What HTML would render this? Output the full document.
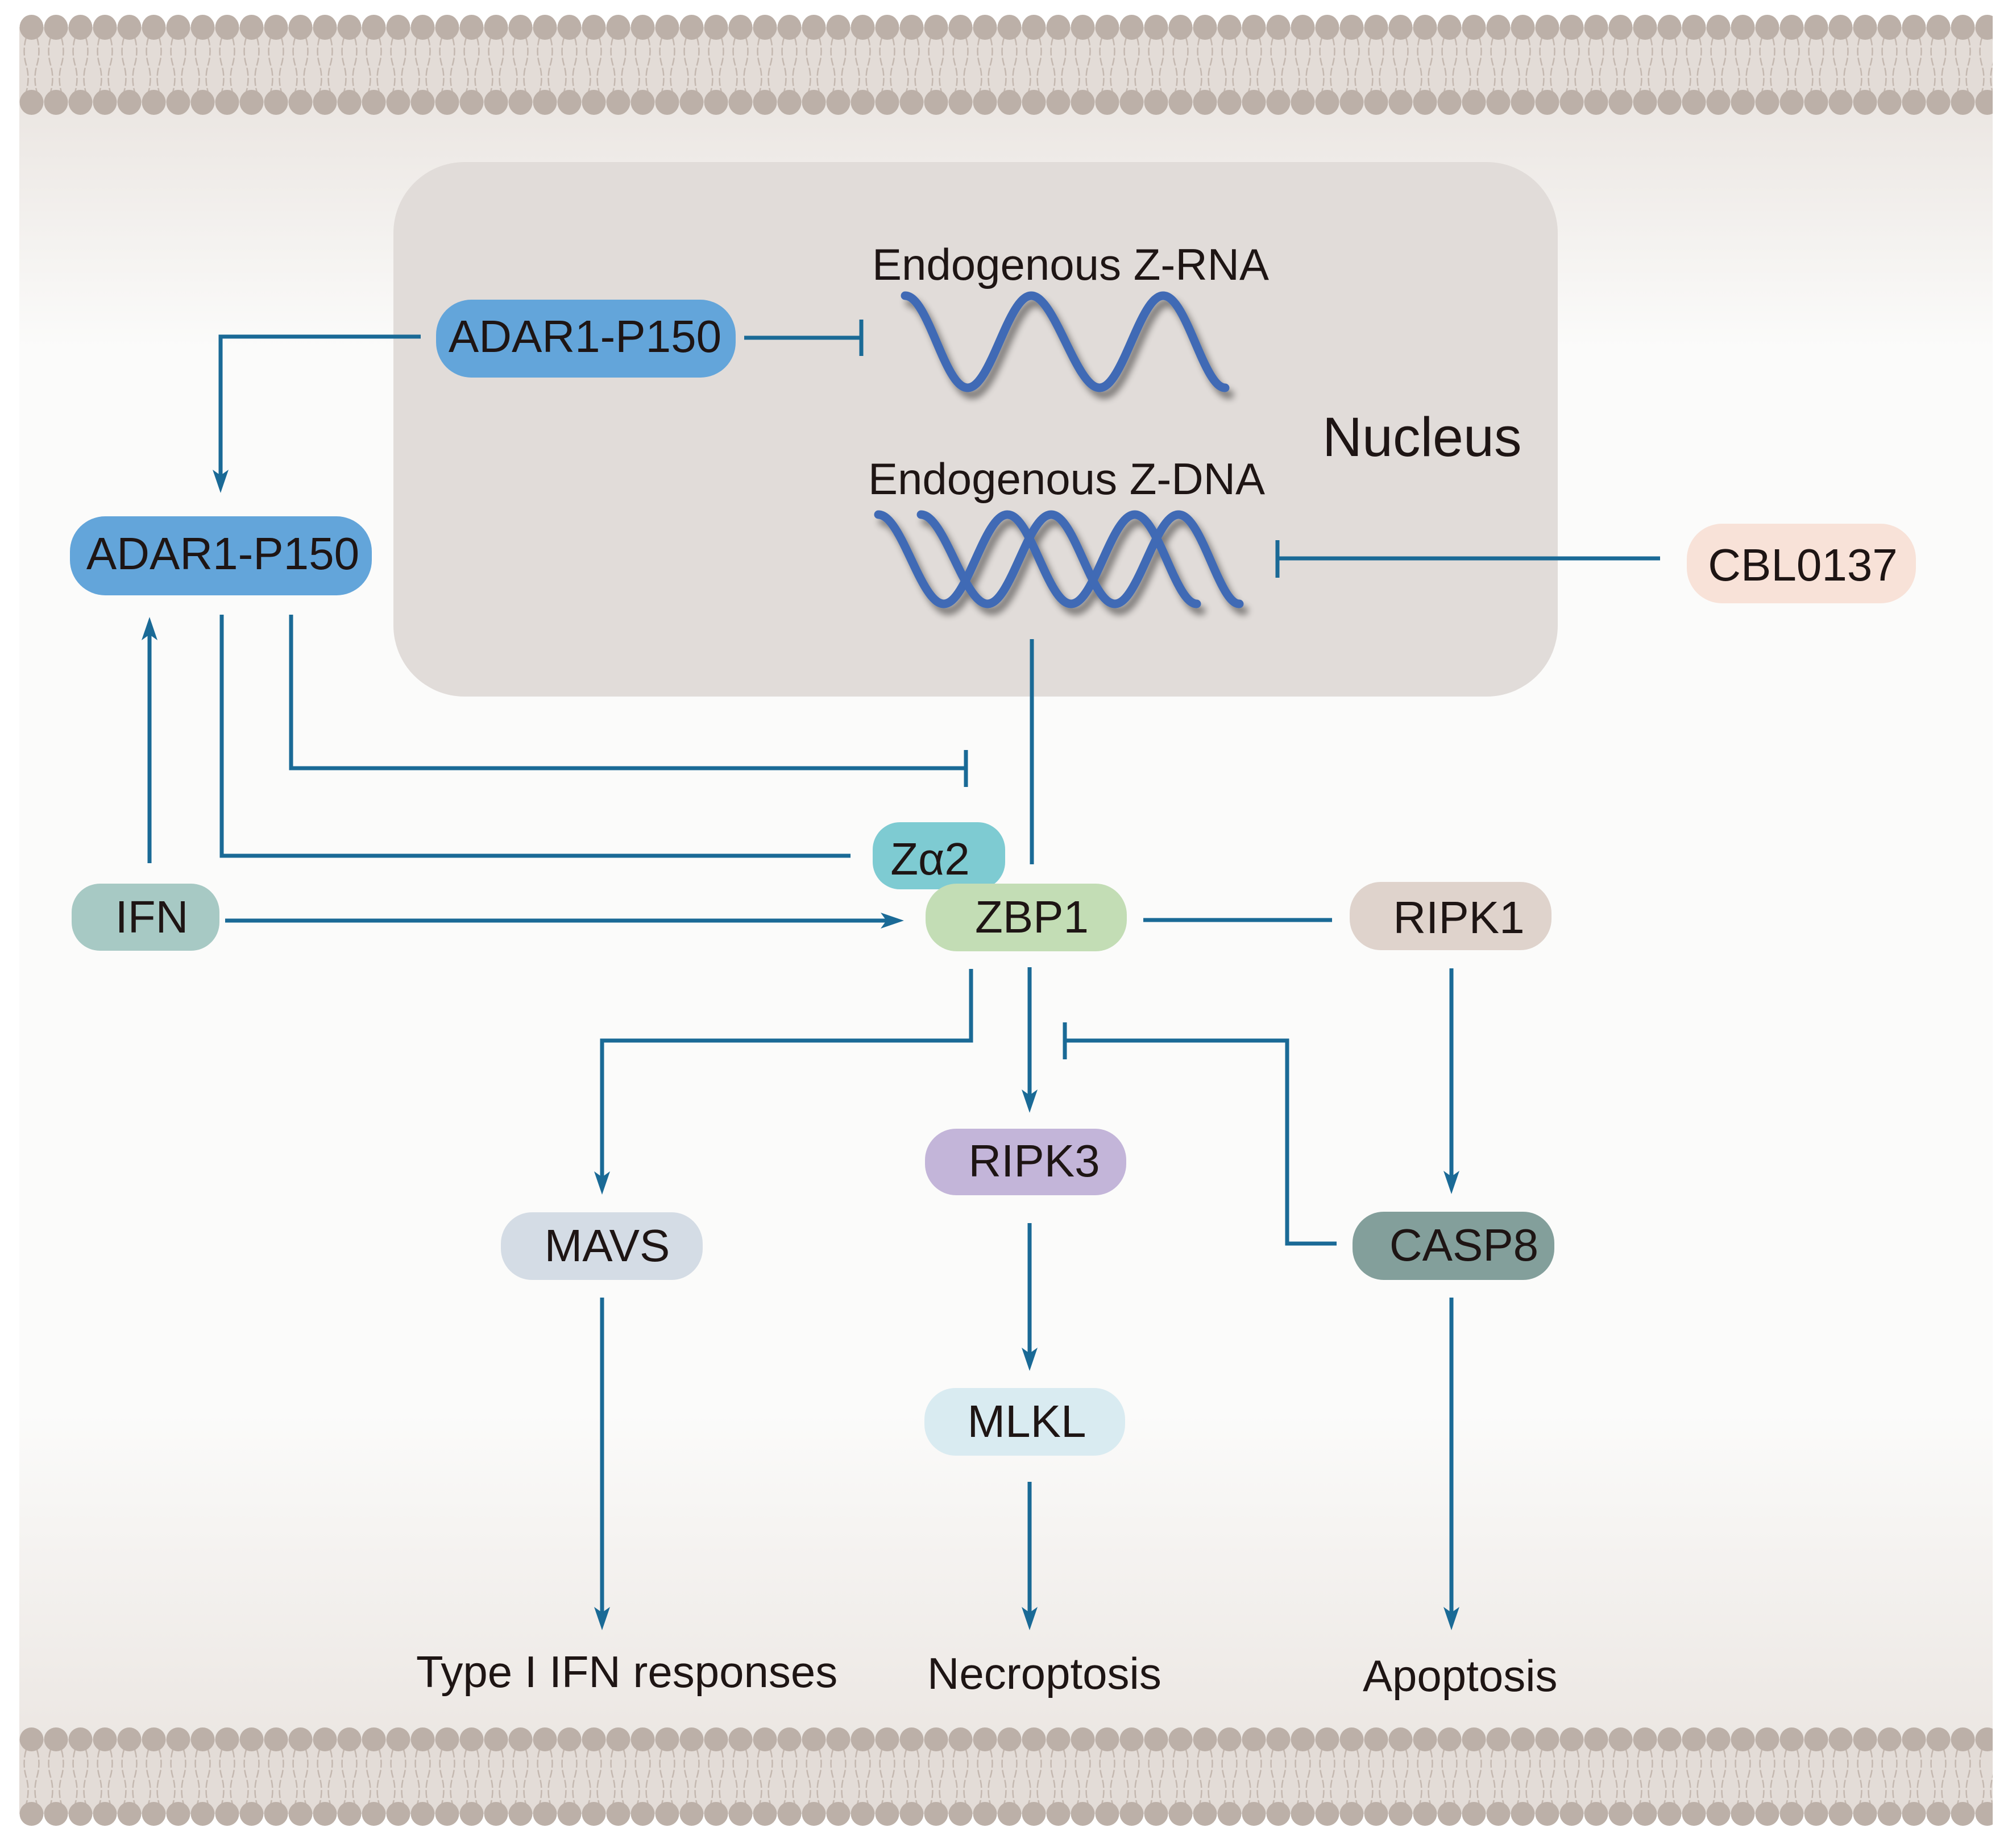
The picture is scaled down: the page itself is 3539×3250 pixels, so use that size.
<!DOCTYPE html>
<html><head><meta charset="utf-8"><style>
html,body{margin:0;padding:0;background:#fff;}
svg{display:block;}
text{font-family:"Liberation Sans",Arial,sans-serif;fill:#1e1514;}
</style></head><body>
<svg width="3539" height="3250" viewBox="0 0 3539 3250" xmlns="http://www.w3.org/2000/svg">
<defs>
<linearGradient id="cell" x1="0" y1="0" x2="0" y2="1">
<stop offset="0" stop-color="#ebe6e2"/>
<stop offset="0.15" stop-color="#fbfbfa"/>
<stop offset="0.8" stop-color="#fbfbfa"/>
<stop offset="1" stop-color="#ece7e3"/>
</linearGradient>
<pattern id="memT" patternUnits="userSpaceOnUse" x="34" y="0" width="43" height="240">
<rect x="0" y="48" width="43" height="132" fill="#e3dcd7"/>
<path d="M12 66 q-7 24 0 48 q7 24 0 48 M31 66 q7 24 0 48 q-7 24 0 48" stroke="#c4b8b0" stroke-width="2.5" fill="none" stroke-dasharray="14 4"/>
<ellipse cx="21.5" cy="48" rx="21" ry="22" fill="#bcb0a8"/>
<ellipse cx="21.5" cy="180" rx="21" ry="22" fill="#bcb0a8"/>
</pattern>
<pattern id="memB" patternUnits="userSpaceOnUse" x="34" y="0" width="43" height="3250">
<rect x="0" y="3059" width="43" height="131" fill="#e3dcd7"/>
<path d="M12 3077 q-7 24 0 48 q7 24 0 48 M31 3077 q7 24 0 48 q-7 24 0 48" stroke="#c4b8b0" stroke-width="2.5" fill="none" stroke-dasharray="14 4"/>
<ellipse cx="21.5" cy="3059" rx="21" ry="21" fill="#bcb0a8"/>
<ellipse cx="21.5" cy="3190" rx="21" ry="21" fill="#bcb0a8"/>
</pattern>
<filter id="sh" x="-10%" y="-10%" width="130%" height="140%">
<feGaussianBlur in="SourceAlpha" stdDeviation="6"/>
<feOffset dx="8" dy="12" result="b"/>
<feComponentTransfer><feFuncA type="linear" slope="0.45"/></feComponentTransfer>
<feMerge><feMergeNode/><feMergeNode in="SourceGraphic"/></feMerge>
</filter>
</defs>

<rect x="34" y="180" width="3471" height="2880" fill="url(#cell)"/>
<rect x="34" y="20" width="3471" height="190" fill="url(#memT)"/>
<rect x="34" y="3032" width="3471" height="185" fill="url(#memB)"/>

<!-- nucleus -->
<rect x="692" y="285" width="2048" height="940" rx="125" fill="#e1dcd9"/>

<!-- waves -->
<g fill="none" stroke="#3f6bb5" stroke-width="15" stroke-linecap="round" filter="url(#sh)">
<path d="M1592 520 C1633 520 1661 682 1702 682 S1773 520 1814 520 S1893 682 1934 682 S2005 520 2046 520 S2117 682 2155 682"/>
<path d="M1545 905 C1586 905 1619 1062 1660 1062 S1731 905 1772 905 S1843 1062 1884 1062 S1955 905 1996 905 S2067 1062 2105 1062"/>
<path d="M1620 905 C1661 905 1696 1062 1737 1062 S1808 905 1849 905 S1920 1062 1961 1062 S2032 905 2073 905 S2144 1062 2180 1062"/>
</g>

<!-- connectors -->
<g fill="none" stroke="#1a6a96" stroke-width="7">
<path d="M740 592 H388 V845"/>
<path d="M1309 594 H1515 M1515 562 V626"/>
<path d="M390 1081 V1505 H1496"/>
<path d="M512 1081 V1351 H1699 M1699 1319 V1384"/>
<path d="M263 1518 V1110"/>
<path d="M396 1619 H1565"/>
<path d="M1815 1124 V1520"/>
<path d="M2011 1618 H2343"/>
<path d="M2553 1703 V2080"/>
<path d="M2351 2187 H2264 V1830 H1873 M1873 1798 V1863"/>
<path d="M1811 1701 V1935"/>
<path d="M1708 1704 V1830 H1059 V2080"/>
<path d="M1811 2151 V2390"/>
<path d="M1059 2282 V2845"/>
<path d="M1811 2606 V2845"/>
<path d="M2553 2282 V2845"/>
<path d="M2920 982 H2247 M2247 950 V1016"/>
</g>
<g fill="#1a6a96">
<polygon points="388,867 374,826 388,836 402,826"/>
<polygon points="263,1085 249,1126 263,1116 277,1126"/>
<polygon points="1590,1619 1549,1605 1559,1619 1549,1633"/>
<polygon points="2553,2100 2539,2059 2553,2069 2567,2059"/>
<polygon points="1811,1957 1797,1916 1811,1926 1825,1916"/>
<polygon points="1059,2101 1045,2060 1059,2070 1073,2060"/>
<polygon points="1811,2411 1797,2370 1811,2380 1825,2370"/>
<polygon points="1059,2867 1045,2826 1059,2836 1073,2826"/>
<polygon points="1811,2867 1797,2826 1811,2836 1825,2826"/>
<polygon points="2553,2867 2539,2826 2553,2836 2567,2826"/>
</g>

<!-- nodes -->
<rect x="767" y="527" width="527" height="137" rx="62" fill="#63a5da"/>
<rect x="123" y="908" width="531" height="139" rx="62" fill="#63a5da"/>
<rect x="126" y="1554" width="260" height="118" rx="50" fill="#a7c9c4"/>
<rect x="1535" y="1446" width="233" height="118" rx="48" fill="#7ecbd2"/>
<rect x="1628" y="1554" width="354" height="119" rx="55" fill="#c3ddb5"/>
<rect x="2374" y="1551" width="355" height="120" rx="55" fill="#dfd3cc"/>
<rect x="2967" y="921" width="403" height="140" rx="62" fill="#f8e2d8"/>
<rect x="1627" y="1985" width="354" height="117" rx="55" fill="#c3b5d9"/>
<rect x="881" y="2132" width="355" height="119" rx="55" fill="#d4dce5"/>
<rect x="2379" y="2131" width="355" height="120" rx="55" fill="#839f9b"/>
<rect x="1626" y="2441" width="353" height="119" rx="55" fill="#d9ebf1"/>

<g font-size="80" text-anchor="middle">
<text x="1029" y="619">ADAR1-P150</text>
<text x="392" y="1001">ADAR1-P150</text>
<text x="267" y="1640">IFN</text>
<text x="1636" y="1538">Zα2</text>
<text x="1815" y="1640">ZBP1</text>
<text x="2566" y="1641">RIPK1</text>
<text x="3171" y="1021">CBL0137</text>
<text x="1819" y="2069">RIPK3</text>
<text x="1068" y="2218">MAVS</text>
<text x="2575" y="2217">CASP8</text>
<text x="1806" y="2527">MLKL</text>
</g>
<g font-size="78">
<text x="1534" y="492">Endogenous Z-RNA</text>
<text x="1527" y="869">Endogenous Z-DNA</text>
<text x="732" y="2967">Type I IFN responses</text>
<text x="1631" y="2970">Necroptosis</text>
<text x="2397" y="2974">Apoptosis</text>
</g>
<text x="2326" y="802" font-size="97">Nucleus</text>
</svg>
</body></html>
